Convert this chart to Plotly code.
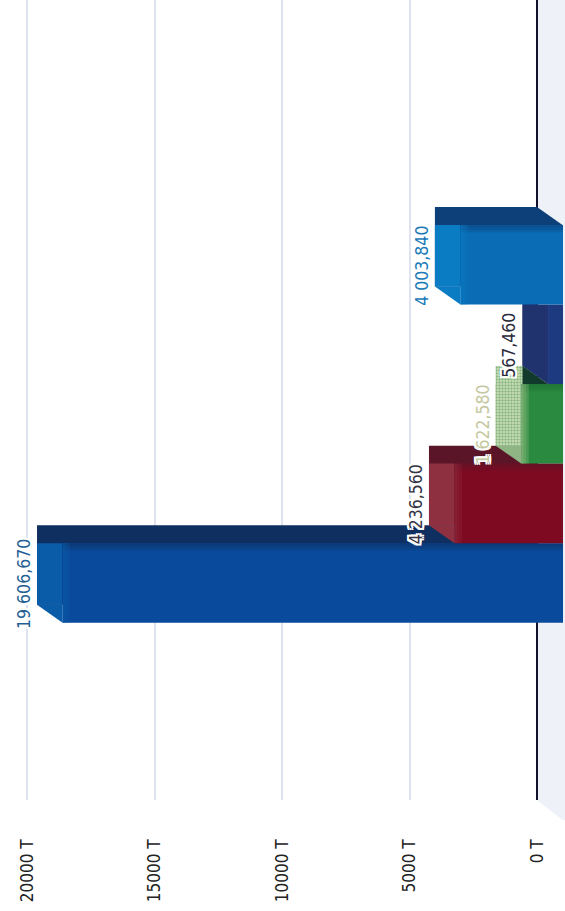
import plotly.graph_objects as go

values = [19606.67, 4236.56, 1622.58, 567.46, 4003.84]
labels = ["19 606,670", "4 236,560", "1 622,580", "567,460", "4 003,840"]
tick_values = [0, 5000, 10000, 15000, 20000]
tick_labels = ["0 T", "5000 T", "10000 T", "15000 T", "20000 T"]

front_colors = ["#0a4a9c", "#7e0a22", "#2a8a3f", "#1d3a80", "#0a6cb5"]
top_colors = ["#0f2f60", "#5a1528", "#b5cc9c", "#1b2c62", "#0d3f78"]
cap_colors = ["#0a5ca8", "#8f3040", "#b5cc9c", "#20336f", "#0a7cc4"]
label_colors = ["#1f5f94", "#333344", "#c4c8a0", "#2a2a3a", "#1a7ab8"]

DEPTH_X = 1000      # apparent depth of the fake 3D, in axis units
DEPTH_Y = 0.226     # apparent depth of the fake 3D, in category units
FONT = "DejaVu Sans Condensed, DejaVu Sans"
HALO = ",".join(f"{a}px {b}px 0 #fff" for a in (-2, 0, 2) for b in (-2, 0, 2))

fig = go.Figure()
for i, v in enumerate(values):
    speck = dict(shape=".", bgcolor="#d4e2b8", fgcolor="#3a8a55", size=3, solidity=0.5)
    pat = speck if i == 2 else None
    # back face / top strip
    fig.add_trace(go.Bar(y=[i + DEPTH_Y], x=[v], base=[0], orientation="h", width=1,
                         marker=dict(color=top_colors[i], line_width=0, pattern=pat)))
    # side cap
    fig.add_trace(go.Bar(y=[i + DEPTH_Y / 2], x=[DEPTH_X], base=[v - DEPTH_X], orientation="h",
                         width=1 - DEPTH_Y,
                         marker=dict(color=cap_colors[i], line_width=0, pattern=pat)))
    # front face
    fig.add_trace(go.Bar(y=[i], x=[v + 20], base=[-DEPTH_X - 20], orientation="h", width=1,
                         marker=dict(color=front_colors[i], line_width=0)))
    # soft shading on the front face: top edge, and blending from the cap
    if v > DEPTH_X * 1.4:
        for k in range(3):
            fig.add_trace(go.Bar(y=[i + 0.485 - 0.03 * k], x=[v + 20], base=[-DEPTH_X - 20],
                                 orientation="h", width=0.03,
                                 marker=dict(color=top_colors[i] if i != 2 else "#1d6a30",
                                             opacity=0.6 - 0.18 * k, line_width=0)))
        for k in range(3):
            fig.add_trace(go.Bar(y=[i], x=[100], base=[v - DEPTH_X - 100 * (k + 1)],
                                 orientation="h", width=1,
                                 marker=dict(color=cap_colors[i], opacity=0.55 - 0.15 * k,
                                             line_width=0)))
    # lower bevel
    fig.add_trace(go.Scatter(x=[v, v - DEPTH_X, v - DEPTH_X],
                             y=[i - 0.5 + DEPTH_Y, i - 0.5 + DEPTH_Y, i - 0.5],
                             mode="lines", line_width=0, fill="toself",
                             fillcolor=cap_colors[i] if i != 2 else "#8fb584"))
    if i == 3:
        # the shadow that this short bar throws on the bar behind it
        fig.add_trace(go.Scatter(x=[v, v - DEPTH_X, v],
                                 y=[i - 0.5 + DEPTH_Y, i - 0.5, i - 0.5],
                                 mode="lines", line_width=0, fill="toself",
                                 fillcolor="#123a2c"))
    fig.add_annotation(x=v, y=i, text=labels[i], showarrow=False, textangle=-90,
                       xanchor="right", yanchor="middle", xshift=-1, yshift=-1,
                       font=dict(family=FONT, size=17.5,
                                 color=label_colors[i], shadow=HALO))

# upper bevel of the last bar
n = len(values) - 1
fig.add_trace(go.Scatter(x=[0, -DEPTH_X, 0], y=[n + 0.5 + DEPTH_Y, n + 0.5, n + 0.5],
                         mode="lines", line_width=0, fill="toself", fillcolor=top_colors[n]))

# pale floor
fig.add_shape(type="path", xref="x", yref="paper", layer="below", line_width=0,
              fillcolor="#eef1f8",
              path="M 0 1 L -1200 1 L -1200 -0.025 L -1000 -0.025 L 0 0 Z")

fig.update_layout(
    width=565, height=911, margin=dict(l=0, r=0, t=0, b=111, autoexpand=False),
    paper_bgcolor="#ffffff", plot_bgcolor="#ffffff",
    barmode="overlay", showlegend=False, hovermode=False,
    xaxis=dict(range=[21059, -1098], tickvals=tick_values, ticktext=tick_labels, tickangle=-90,
               showgrid=True, gridcolor="#dfe2ef", gridwidth=2,
               zeroline=True, zerolinecolor="#12122e", zerolinewidth=2,
               ticks="", ticklabelstandoff=35, showline=False,
               tickfont=dict(family=FONT, size=17, color="#222222")),
    yaxis=dict(range=[-2.73, 7.33], visible=False),
)
fig.write_html("out.html", config={"displayModeBar": False},
               post_script="document.body.style.margin='0';")
